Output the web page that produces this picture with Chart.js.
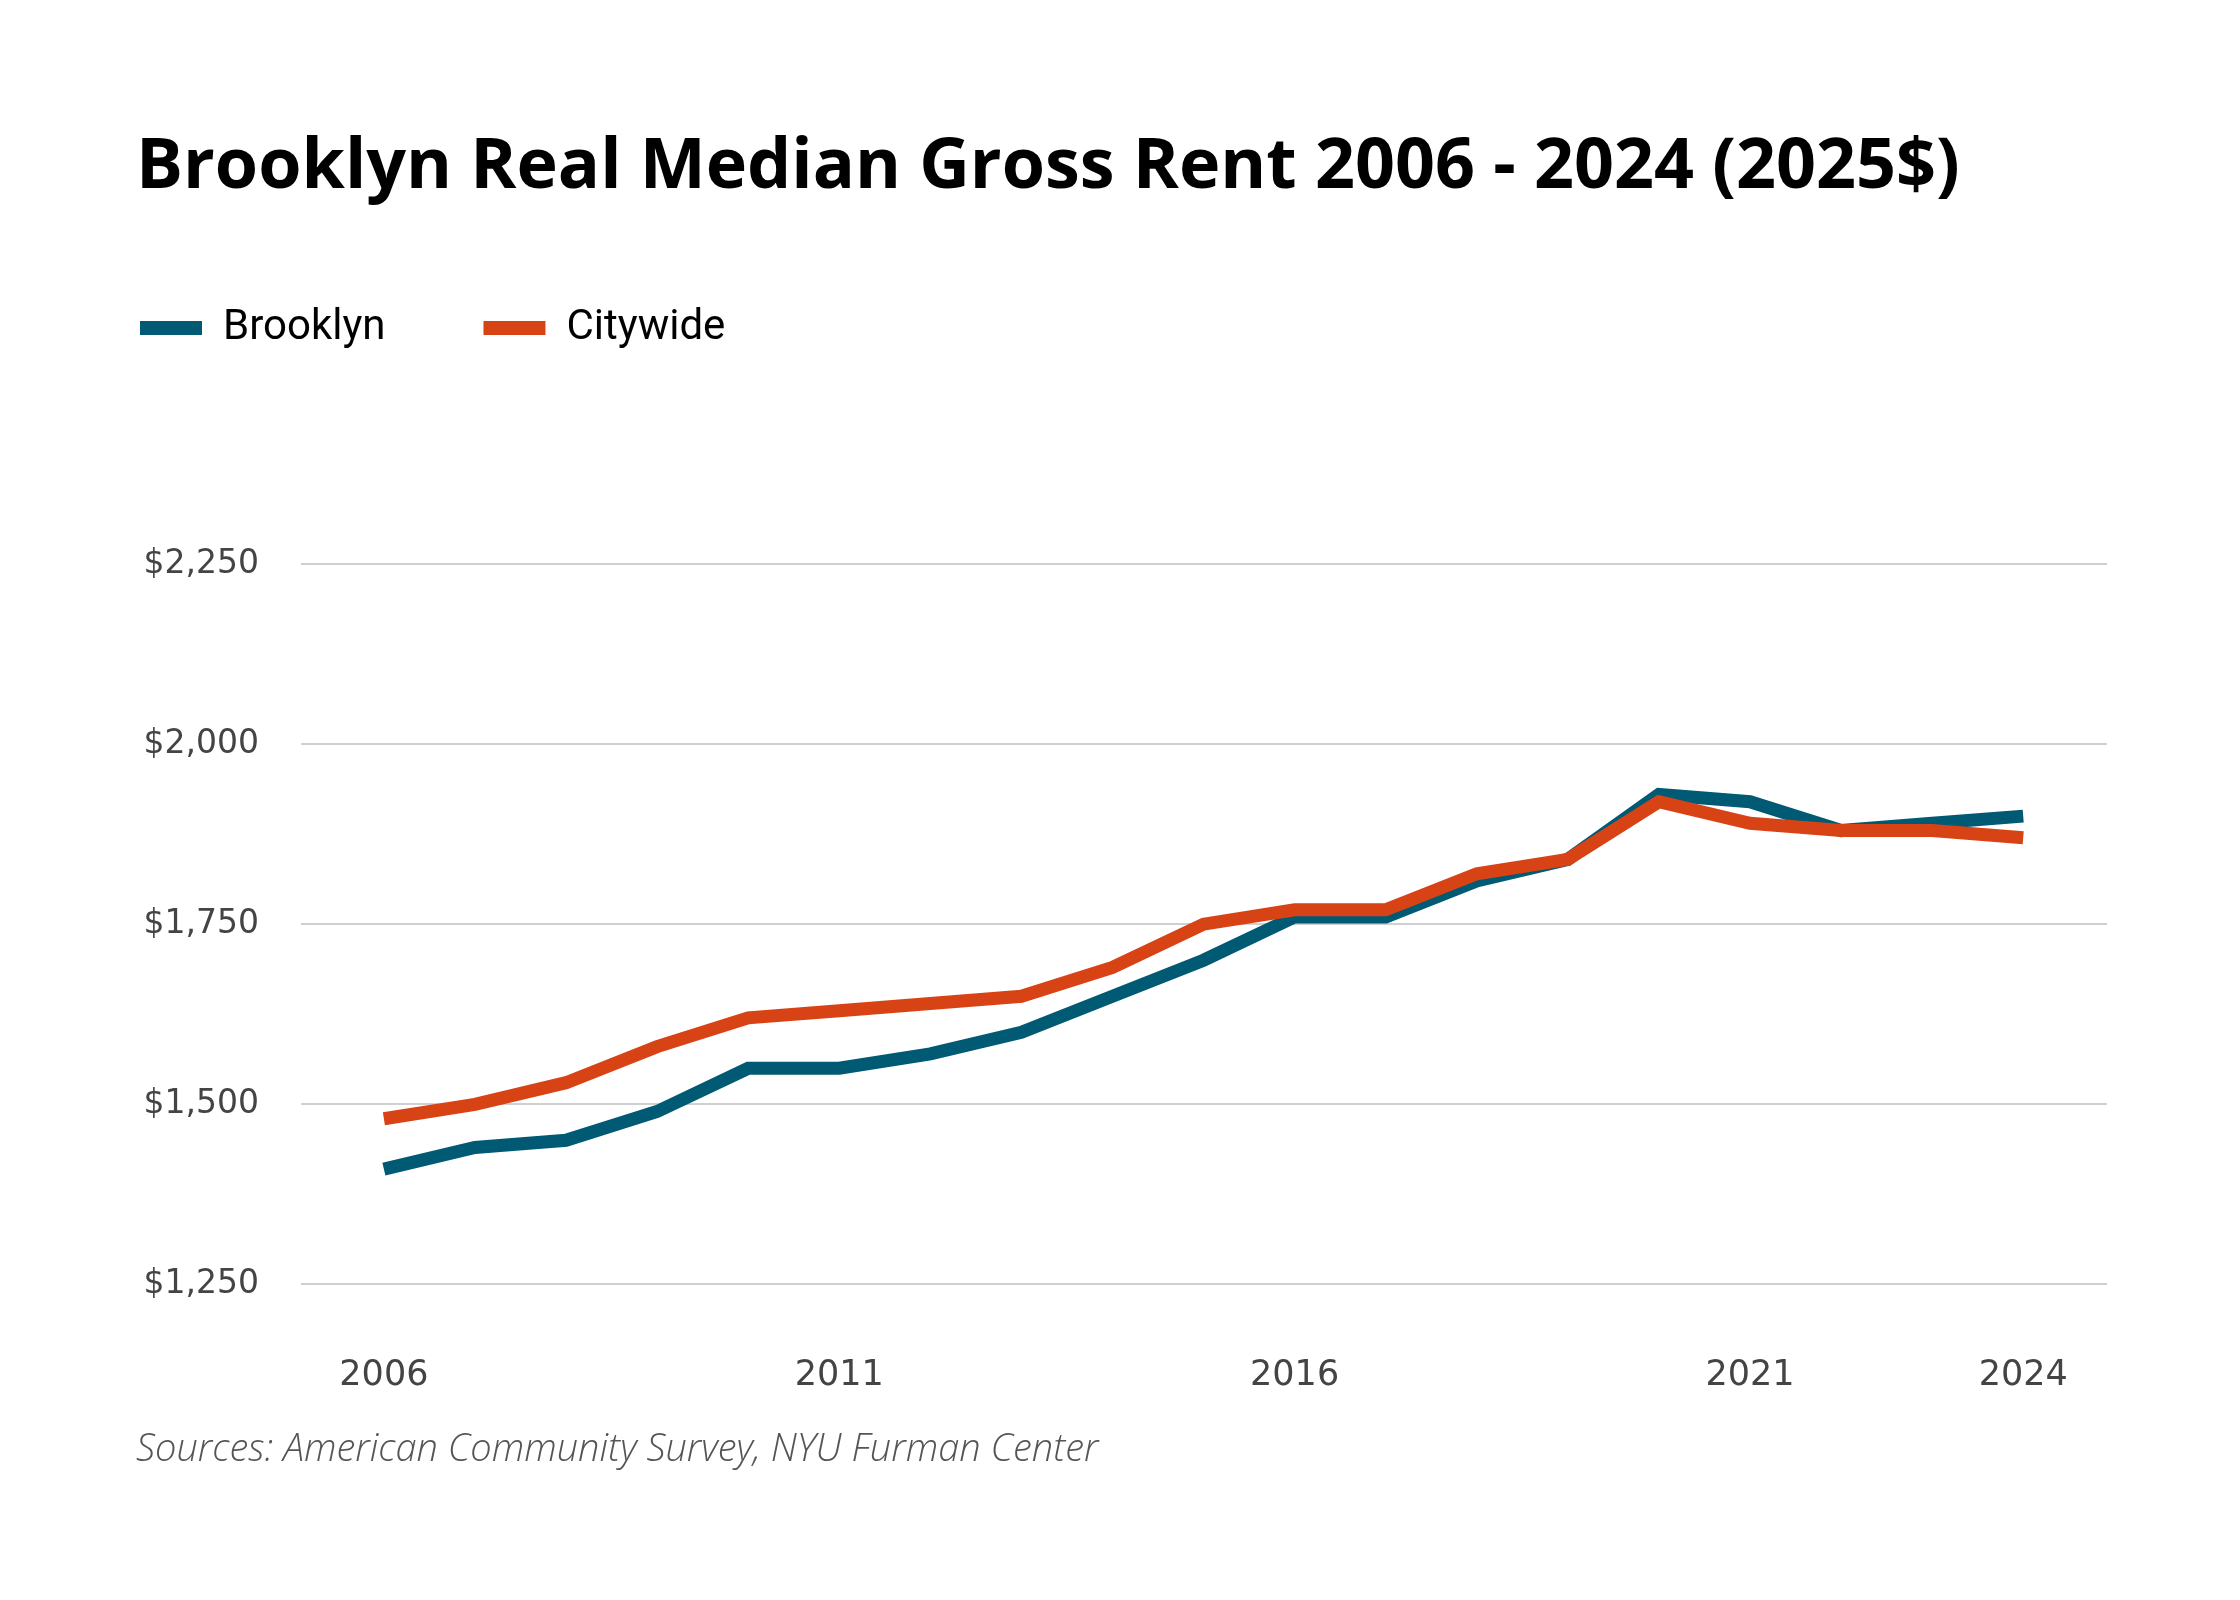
<!DOCTYPE html>
<html lang="en">
<head>
    <meta charset="UTF-8">
    <title>Brooklyn Real Median Gross Rent</title>
    <script src="https://cdn.jsdelivr.net/npm/chart.js"></script>
    <style>
        html, body { margin: 0; padding: 0; background: #ffffff; }
        #wrap { width: 2240px; height: 1600px; }
    </style>
</head>
<body>
    <div id="wrap">
        <canvas id="linhas"></canvas>
    </div>
<script>
// anos e valores (dólares de 2025)
const anos = [2006, 2007, 2008, 2009, 2010, 2011, 2012, 2013, 2014, 2015,
              2016, 2017, 2018, 2019, 2020, 2021, 2022, 2023, 2024];
const brooklyn = [1410, 1440, 1450, 1490, 1550, 1550, 1570, 1600, 1650, 1700,
                  1760, 1760, 1810, 1840, 1930, 1920, 1880, 1890, 1900];
const citywide = [1480, 1500, 1530, 1580, 1620, 1630, 1640, 1650, 1690, 1750,
                  1770, 1770, 1820, 1840, 1920, 1890, 1880, 1880, 1870];
const anosMarcados = [2006, 2011, 2016, 2021, 2024];
const valoresY = [1250, 1500, 1750, 2000, 2250];

const corBrooklyn = '#005a73';
const corCitywide = '#d84315';

// legenda: altura fixa até o topo do gráfico e leve deslocamento
const ajusteLegenda = {
    id: 'ajusteLegenda',
    beforeLayout(chart) {
        const legenda = chart.legend;
        if (!legenda || legenda._ajustada) return;
        const fitOriginal = legenda.fit;
        legenda.fit = function () {
            fitOriginal.call(this);
            this.height = 344;
        };
        legenda._ajustada = true;
    },
    afterLayout(chart) {
        chart.legend.left -= 94;
        chart.legend.right -= 94;
        chart.legend.top -= 11;
    }
};

function pontos(valores) {
    return anos.map((ano, i) => ({ x: ano, y: valores[i] }));
}

const ctx = document.getElementById('linhas').getContext('2d');
const grafico = new Chart(ctx, {
    type: 'line',
    data: {
        datasets: [{
            label: 'Brooklyn',
            data: pontos(brooklyn),
            borderColor: corBrooklyn,
            backgroundColor: corBrooklyn,
            borderWidth: 13,
            pointRadius: 0,
            tension: 0,
            order: 1
        }, {
            label: 'Citywide',
            data: pontos(citywide),
            borderColor: corCitywide,
            backgroundColor: corCitywide,
            borderWidth: 13,
            pointRadius: 0,
            tension: 0,
            order: 0
        }]
    },
    options: {
        responsive: true,
        maintainAspectRatio: false,
        animation: false,
        devicePixelRatio: 1,
        layout: { padding: { left: 136, right: 133, top: 0, bottom: 0 } },
        plugins: {
            tooltip: { enabled: false },
            title: {
                display: true,
                text: 'Brooklyn Real Median Gross Rent 2006 - 2024 (2025$)',
                align: 'start',
                color: '#000000',
                font: { family: 'Open Sans', size: 70, weight: 'bold', lineHeight: 1.2 },
                padding: { top: 126, bottom: 10 }
            },
            legend: {
                display: true,
                align: 'start',
                labels: {
                    boxWidth: 62,
                    boxHeight: 14,
                    padding: 98,
                    color: '#000000',
                    font: { family: 'Roboto', size: 42 },
                    generateLabels(chart) {
                        return chart.data.datasets.map((ds, i) => ({
                            text: ds.label,
                            fillStyle: ds.borderColor,
                            strokeStyle: ds.borderColor,
                            lineWidth: 0,
                            fontColor: '#000000',
                            hidden: false,
                            datasetIndex: i
                        }));
                    }
                }
            },
            subtitle: {
                display: true,
                position: 'bottom',
                align: 'start',
                text: 'Sources: American Community Survey, NYU Furman Center',
                color: '#555555',
                font: { family: 'Open Sans', size: 38, style: 'italic', weight: 300, lineHeight: 1.2 },
                padding: { top: 30, bottom: 127 }
            }
        },
        scales: {
            x: {
                type: 'linear',
                min: 2005.09,
                max: 2024.92,
                afterBuildTicks(scale) {
                    scale.ticks = anosMarcados.map(v => ({ value: v }));
                },
                afterFit(scale) {
                    scale.height = 113;
                },
                grid: { display: false, drawTicks: false },
                border: { display: false },
                ticks: {
                    padding: 71,
                    color: '#444444',
                    font: { family: 'DejaVu Sans', size: 35 },
                    callback: v => String(v),
                    maxRotation: 0,
                    autoSkip: false
                }
            },
            y: {
                min: 1250,
                max: 2250,
                afterBuildTicks(scale) {
                    scale.ticks = valoresY.map(v => ({ value: v }));
                },
                afterFit(scale) {
                    scale.width = 165;
                },
                grid: { color: '#d0d0d0', lineWidth: 2, drawTicks: false },
                border: { display: false },
                ticks: {
                    padding: 42,
                    color: '#444444',
                    font: { family: 'DejaVu Sans', size: 33 },
                    callback: v => '$' + v.toLocaleString('en-US')
                }
            }
        }
    },
    plugins: [ajusteLegenda]
});
</script>
</body>
</html>
